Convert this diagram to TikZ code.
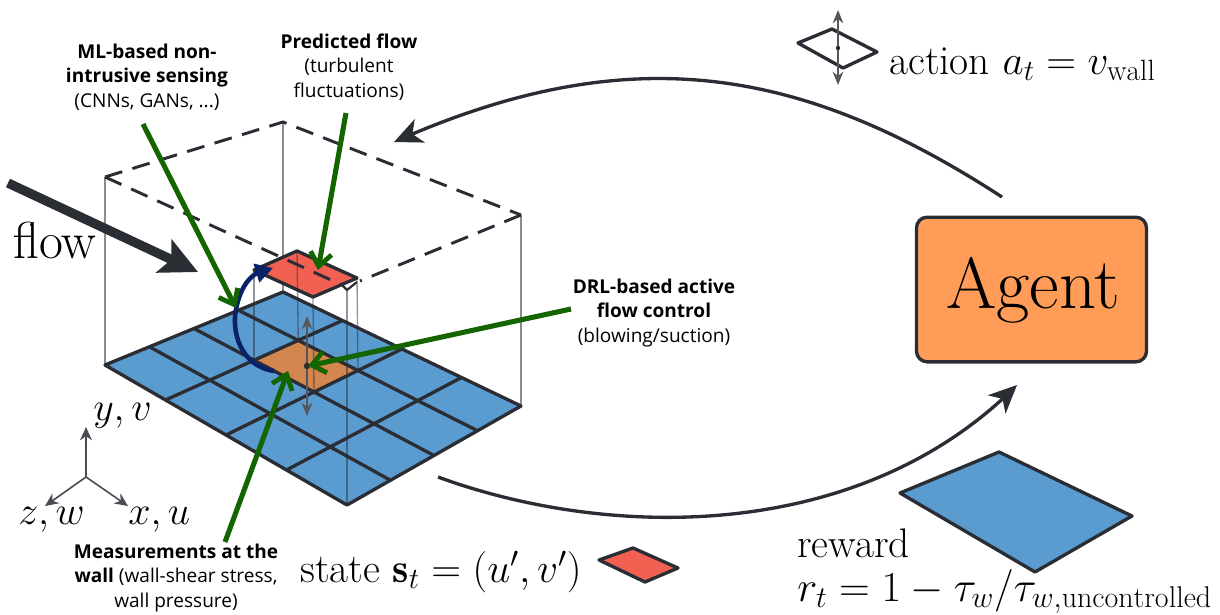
\RequirePackage{fix-cm}
\documentclass[tikz,border=0pt]{standalone}
\usepackage{fontspec}
\usepackage{amsmath}
\newfontfamily\lab{Open Sans}
\usetikzlibrary{calc,arrows.meta,bending}
\DeclareMathSizes{31}{31}{22}{16}
\DeclareMathSizes{30}{30}{21}{15}
\DeclareMathSizes{32}{32}{22.5}{16}
\definecolor{ink}{HTML}{2B2D35}
\definecolor{gridblue}{HTML}{5A9BD0}
\definecolor{patchred}{HTML}{F26052}
\definecolor{patchorange}{HTML}{D3864E}
\definecolor{agentorange}{HTML}{FF9C57}
\definecolor{arrowgreen}{HTML}{146400}
\definecolor{navy}{HTML}{0A2268}
\tikzset{
  cell/.style={draw=ink,line width=2.5pt,line join=round},
  wire/.style={draw=black!45,line width=1pt},
  overwire/.style={draw=ink,line width=1pt,opacity=.5},
  planedash/.style={draw=ink,line width=2.2pt,dash pattern=on 13.5pt off 8pt},
  greenarrow/.style={draw=arrowgreen,line width=3.8pt,-{Straight Barb[length=10pt,width=16pt,line width=3.6pt]}},
  bigarc/.style={draw=ink,line width=2.5pt,-{Stealth[length=21pt,width=19pt,inset=6pt]}},
  thinarrow/.style={draw=ink!80,line width=1.2pt,{Stealth[length=10pt,width=8pt]}-{Stealth[length=10pt,width=8pt]}},
  axisarrow/.style={draw=ink!85,line width=1.2pt,-{Stealth[length=10pt,width=9pt]}},
  mathlabel/.style={inner sep=0pt,anchor=base west,font=\fontsize{30}{34}\selectfont},
  biglabel/.style={inner sep=0pt,anchor=base west,font=\fontsize{31}{36}\selectfont},
  note/.style={inner sep=0pt,align=center,font=\lab\fontsize{14.3}{18.4}\selectfont},
}
\begin{document}
\begin{tikzpicture}[x=0.75pt,y=-0.75pt]
\useasboundingbox (0,0) rectangle (1220,614);
% wall grid corners
\coordinate (L) at (105,365);
\coordinate (T) at (283,292);
\coordinate (R) at (521,406);
\coordinate (B) at (347,505);
% dashed plane corners
\coordinate (PL) at (105,177);
\coordinate (PT) at (283,122);
\coordinate (PR) at (521,215);
\coordinate (PB) at (347,290);
% upper patch
\coordinate (RL) at (254,270);
\coordinate (RT) at (297,251);
\coordinate (RR) at (357,278);
\coordinate (RB) at (313,297);
\coordinate (DotC) at (307,366);
% wires behind the plane
\draw[wire] (PL) -- (L);
\draw[wire] (PT) -- (T);
\draw[wire] (PR) -- (R);
% wall
\fill[gridblue] (L) -- (T) -- (R) -- (B) -- cycle;
\path ($(L)!0.25!(B)$) coordinate (a1) ($(T)!0.25!(R)$) coordinate (a2)
      ($(L)!0.5!(B)$) coordinate (b1) ($(T)!0.5!(R)$) coordinate (b2);
\coordinate (OL) at ($(a1)!0.5!(a2)$);
\coordinate (OT) at ($(a1)!0.75!(a2)$);
\coordinate (OR) at ($(b1)!0.75!(b2)$);
\coordinate (OB) at ($(b1)!0.5!(b2)$);
\fill[patchorange] (OL) -- (OT) -- (OR) -- (OB) -- cycle;
\foreach \k in {0.25,0.5,0.75}{
  \draw[cell] ($(L)!\k!(T)$) -- ($(B)!\k!(R)$);
  \draw[cell] ($(L)!\k!(B)$) -- ($(T)!\k!(R)$);
}
\draw[cell] (L) -- (T) -- (R) -- (B) -- cycle;
% upper patch
\fill[patchred,draw=ink,line width=2.5pt,line join=round] (RL) -- (RT) -- (RR) -- (RB) -- cycle;
% wires over the wall
\draw[overwire] (RL) -- (OL);
\draw[overwire] (RT) -- (OT);
\draw[overwire] (RB) -- (OB);
\draw[overwire] (RR) -- (OR);
\draw[overwire] (PB) -- (B);
% plane
\draw[planedash] (PL) -- (PT) -- (PR);
\draw[planedash] (PR) -- (360,281);
\draw[planedash] (PL) -- (342,285);
\draw[ink,line width=1.6pt,line join=round] (342,285) -- (PB) -- (357,282);
% wall-normal actuation
\draw[thinarrow] (307,316) -- (307,416);
\fill[ink] (DotC) circle (3.2);
% navy estimate arc
\draw[navy,line width=3.4pt,-{Stealth[length=13pt,width=14pt,inset=0pt]}] (274,371) .. controls (240,366) and (230,330) .. (237,305) .. controls (241,288) and (250,270) .. (273,268);
% flow arrow
\draw[ink,line width=7pt,-{Stealth[length=28pt,width=27pt,inset=6pt]}] (8,183) -- (198,272);
% green annotation arrows
\coordinate (G1) at (143,124); \coordinate (H1) at (236,308);
\coordinate (G2) at (346,113); \coordinate (H2) at (318,270);
\coordinate (G3) at (571,309); \coordinate (H3) at (308,366);
\coordinate (G4) at (225,542); \coordinate (H4) at (288,371);
\draw[greenarrow] (G1) -- (H1);
\draw[greenarrow] (G2) -- (H2);
\draw[greenarrow] (G3) -- (H3);
\draw[greenarrow] (G4) -- (H4);
% axes
\coordinate (O) at (86,477);
\coordinate (AY) at (86,427);
\coordinate (AX) at (128,506);
\coordinate (AZ) at (45,506);
\draw[axisarrow] (O) -- (AY);
\draw[axisarrow] (O) -- (AX);
\draw[axisarrow] (O) -- (AZ);
\node[mathlabel] (ly) at (93,420) {$y,v$};
\node[mathlabel] (lz) at (18,524) {$z,w$};
\node[mathlabel] (lx) at (128,524) {$x,u$};
\node[inner sep=0pt,anchor=base west,font=\fontsize{39}{42}\selectfont] (flow) at (13,258) {flow};
% notes
\node[note] (n1) at (147,77) {\textbf{ML-based non-}\\\textbf{intrusive sensing}\\(CNNs, GANs, ...)};
\node[note] (n2) at (349,67) {\textbf{Predicted flow}\\(turbulent\\fluctuations)};
\node[note] (n3) at (654,313) {\textbf{DRL-based active}\\\textbf{flow control}\\(blowing/suction)};
\node[note] (n4) at (176,578) {\textbf{Measurements at the}\\\textbf{wall} (wall-shear stress,\\wall pressure)};
% agent
\node[draw=ink,line width=2.5pt,rounded corners=8pt,fill=agentorange,minimum width=172.5pt,minimum height=108.5pt,inner sep=0pt] (agent) at (1031.5,289.5) {};
\node[inner sep=0pt,anchor=base,font=\fontsize{54.4}{58}\selectfont] (agenttext) at (1033,308) {Agent};
% loop arcs
\coordinate (A1) at (1002,197); \coordinate (A2) at (394,142);
\coordinate (B1) at (438,477); \coordinate (B2) at (1017,385);
\draw[bigarc] (A1) .. controls (802,67) and (630,37) .. (A2);
\draw[bigarc] (B1) .. controls (610,540) and (860,543) .. (B2);
% action
\coordinate (DL) at (798,43); \coordinate (DT) at (832,29); \coordinate (DR) at (877,52); \coordinate (DB) at (843,68);
\draw[cell] (DL) -- (DT) -- (DR) -- (DB) -- cycle;
\coordinate (AU) at (838,10); \coordinate (AD) at (838,85);
\draw[thinarrow] (AD) -- (AU);
\fill[ink] (838,48) circle (2.2);
\node[biglabel] (act) at (889,74) {action $a_t=v_{\mathrm{wall}}$};
% state
\node[biglabel] (st) at (300,582) {state $\mathbf{s}_t=(u',v')$};
\fill[patchred,draw=ink,line width=2.5pt,line join=round] (599,560) -- (633,548) -- (678,568) -- (645,582) -- cycle;
% reward
\fill[gridblue,draw=ink,line width=2.5pt,line join=round] (900,493) -- (999,452) -- (1132,516) -- (1035,572) -- cycle;
\node[biglabel] (rw) at (797,557) {reward};
\node[biglabel,font=\fontsize{32}{36}\selectfont] (rr) at (797,601) {$r_t=1-\tau_w/\tau_{w,\mathrm{uncontrolled}}$};
\end{tikzpicture}
\end{document}
